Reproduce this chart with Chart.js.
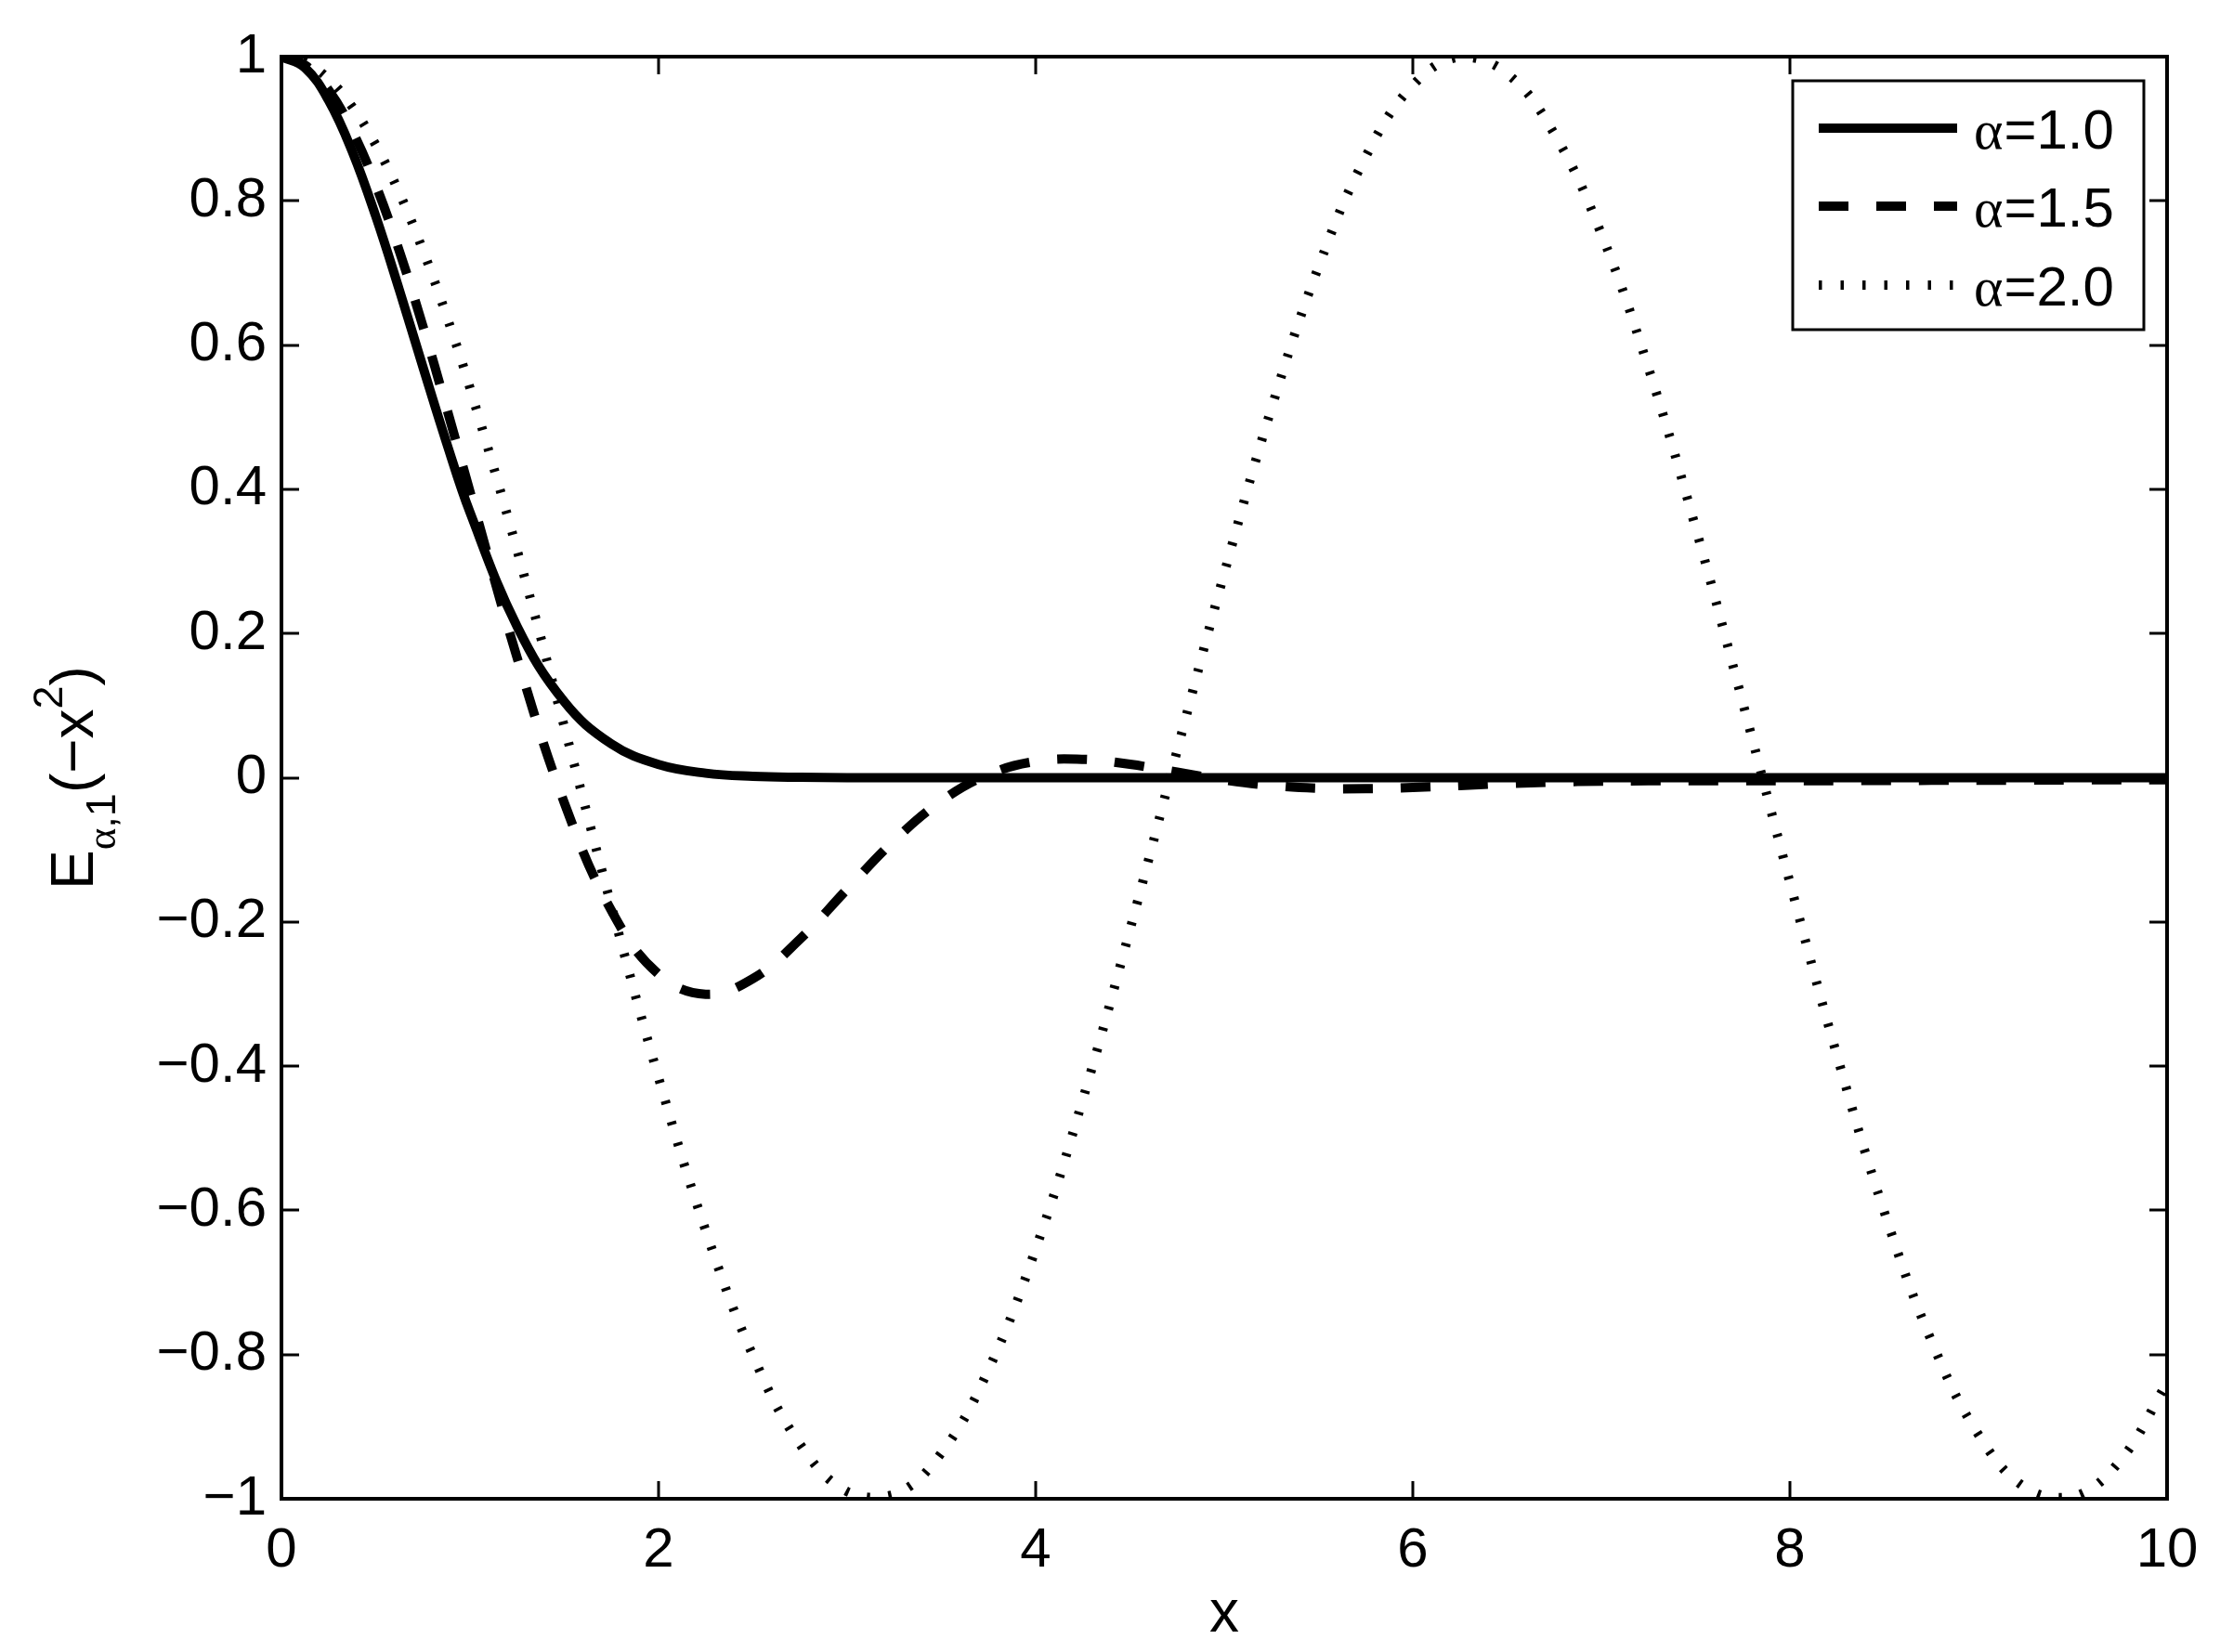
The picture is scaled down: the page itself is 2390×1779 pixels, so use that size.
<!DOCTYPE html>
<html>
<head>
<meta charset="utf-8">
<script src="https://cdn.jsdelivr.net/npm/chart.js@4.4.0/dist/chart.umd.min.js"></script>
<style>
  html, body { margin: 0; padding: 0; background: #fff; }
  canvas { display: block; }
</style>
</head>
<body>
<canvas id="chart" width="2390" height="1779"></canvas>
<script>
// E_{alpha,1}(-x^2) for three alphas (denser near x=0 where the curves bend)
const X = [0, 0.125, 0.25, 0.375, 0.5, 0.625, 0.75, 0.875, 1, 1.25, 1.5, 1.75, 2, 2.25, 2.5, 2.75, 3, 3.25, 3.5, 3.75, 4, 4.25, 4.5, 4.75,
  5, 5.25, 5.5, 5.75, 6, 6.25, 6.5, 6.75, 7, 7.25, 7.5, 7.75, 8, 8.25, 8.5, 8.75, 9, 9.25, 9.5, 9.75, 10];
const ALPHA_10 = [1, 0.9845, 0.9394, 0.8688, 0.7788, 0.6766, 0.5698, 0.465, 0.3679, 0.2096, 0.1054, 0.0468, 0.0183, 0.0063, 0.0019, 0.0005, 0.0001, 0, 0, 0, 0, 0, 0, 0,
  0, 0, 0, 0, 0, 0, 0, 0, 0, 0, 0, 0, 0, 0, 0, 0, 0, 0, 0, 0, 0];
const ALPHA_15 = [1, 0.9883, 0.9536, 0.8975, 0.8221, 0.7305, 0.6263, 0.5136, 0.3966, 0.1663, -0.0347, -0.1844, -0.2725, -0.3003, -0.2786, -0.2239, -0.1546, -0.087, -0.0322, 0.0045, 0.0227, 0.0255, 0.0186, 0.0077,
  -0.003, -0.0107, -0.0147, -0.0152, -0.0135, -0.0108, -0.0081, -0.006, -0.0048, -0.0042, -0.0041, -0.0042, -0.0043, -0.0041, -0.0039, -0.0037, -0.0035, -0.0033, -0.0031, -0.003, -0.0028];
const ALPHA_20 = [1, 0.9922, 0.9689, 0.9305, 0.8776, 0.811, 0.7317, 0.641, 0.5403, 0.3153, 0.0707, -0.1782, -0.4161, -0.6282, -0.8011, -0.9243, -0.99, -0.9941, -0.9365, -0.8206, -0.6536, -0.4461, -0.2108, 0.0376,
  0.2837, 0.5121, 0.7087, 0.8612, 0.9602, 0.9995, 0.9766, 0.893, 0.7539, 0.5679, 0.3466, 0.1038, -0.1455, -0.3857, -0.602, -0.7808, -0.9111, -0.9848, -0.9972, -0.9476, -0.8391];
const SERIES_LABELS = ["α=1.0", "α=1.5", "α=2.0"];
const X_TICKS = [0, 2, 4, 6, 8, 10];
const Y_TICKS = [-1, -0.8, -0.6, -0.4, -0.2, 0, 0.2, 0.4, 0.6, 0.8, 1];

const SANS = '"Liberation Sans", Arial, Helvetica, sans-serif';
const SERIF = '"Liberation Serif", "Times New Roman", serif';

const pts = ys => X.map((x, i) => ({ x, y: ys[i] }));

// frame, inward ticks, axis labels and the boxed legend
const decorations = {
    id: "decorations",
    afterDatasetsDraw(chart) {
        const { ctx, chartArea: a, scales } = chart;
        ctx.save();
        ctx.strokeStyle = "#000";
        ctx.setLineDash([]);
        ctx.lineCap = "butt";

        // ticks on all four sides, pointing in
        const TL = 19;
        ctx.lineWidth = 3;
        ctx.beginPath();
        X_TICKS.forEach(v => {
            const px = Math.round(scales.x.getPixelForValue(v));
            ctx.moveTo(px, a.bottom); ctx.lineTo(px, a.bottom - TL);
            ctx.moveTo(px, a.top); ctx.lineTo(px, a.top + TL);
        });
        Y_TICKS.forEach(v => {
            const py = Math.round(scales.y.getPixelForValue(v));
            ctx.moveTo(a.left, py); ctx.lineTo(a.left + TL, py);
            ctx.moveTo(a.right, py); ctx.lineTo(a.right - TL, py);
        });
        ctx.stroke();

        ctx.lineWidth = 4;
        ctx.strokeRect(a.left, a.top, a.right - a.left, a.bottom - a.top);

        // legend
        const bx = a.right - 25 - 378, by = a.top + 26, bw = 378, bh = 268;
        ctx.fillStyle = "#fff";
        ctx.fillRect(bx, by, bw, bh);
        ctx.lineWidth = 3;
        ctx.strokeRect(bx, by, bw, bh);
        const rows = [51, 135, 220];
        chart.data.datasets.forEach((ds, i) => {
            const ry = by + rows[i];
            ctx.save();
            ctx.lineWidth = ds.borderWidth;
            ctx.setLineDash(ds.borderDash || []);
            ctx.beginPath();
            ctx.moveTo(bx + 28, ry);
            ctx.lineTo(bx + 177, ry);
            ctx.stroke();
            ctx.restore();

            ctx.fillStyle = "#000";
            ctx.textBaseline = "alphabetic";
            ctx.textAlign = "left";
            let tx = bx + 195;
            ctx.font = `60px ${SERIF}`;
            ctx.fillText(ds.label[0], tx, ry + 22);
            tx += ctx.measureText(ds.label[0]).width + 1;
            ctx.font = `60px ${SANS}`;
            ctx.fillText(ds.label.slice(1), tx, ry + 22);
        });
        ctx.restore();
    },
    afterDraw(chart) {
        const { ctx, chartArea: a } = chart;
        ctx.save();
        ctx.fillStyle = "#000";
        ctx.textBaseline = "alphabetic";

        // x label
        ctx.font = `64px ${SANS}`;
        ctx.textAlign = "center";
        ctx.fillText("x", (a.left + a.right) / 2, 1757);

        // y label: E_{α,1}(−x^2), rotated
        const parts = [
            ["E", SANS, 64, 0],
            ["α", SERIF, 45, 24],
            [",", SANS, 45, 24],
            ["1", SANS, 45, 24],
            ["(\u2212x", SANS, 64, 0],
            ["2", SANS, 45, -33],
            [")", SANS, 64, 0]
        ];
        let total = 0;
        parts.forEach(p => { ctx.font = `${p[2]}px ${p[1]}`; total += ctx.measureText(p[0]).width; });
        ctx.translate(100, (a.top + a.bottom) / 2);
        ctx.rotate(-Math.PI / 2);
        ctx.textAlign = "left";
        let u = -total / 2;
        parts.forEach(p => {
            ctx.font = `${p[2]}px ${p[1]}`;
            ctx.fillText(p[0], u, p[3]);
            u += ctx.measureText(p[0]).width;
        });
        ctx.restore();
    }
};

const tickFont = { family: SANS, size: 60 };

new Chart(document.getElementById("chart"), {
    type: "line",
    data: {
        datasets: [
            { label: SERIES_LABELS[0], data: pts(ALPHA_10), borderColor: "#000", borderWidth: 10, order: 3 },
            { label: SERIES_LABELS[1], data: pts(ALPHA_15), borderColor: "#000", borderWidth: 10,
              borderDash: [32, 30], order: 2 },
            { label: SERIES_LABELS[2], data: pts(ALPHA_20), borderColor: "#000", borderWidth: 10,
              borderDash: [3.5, 20], order: 1 }
        ].map(d => Object.assign(d, { pointRadius: 0, fill: false, clip: 0, tension: 0.4,
                                      borderCapStyle: "butt", borderJoinStyle: "round" }))
    },
    options: {
        responsive: false,
        animation: false,
        devicePixelRatio: 1,
        layout: { padding: { top: 61, right: 57, left: 0, bottom: 0 } },
        plugins: { legend: { display: false }, tooltip: { enabled: false } },
        scales: {
            x: {
                type: "linear", min: 0, max: 10,
                afterBuildTicks: s => { s.ticks = X_TICKS.map(v => ({ value: v })); },
                afterFit: s => { s.height = 165; },
                grid: { display: false, drawTicks: false, tickLength: 0 },
                border: { display: false },
                ticks: { font: tickFont, color: "#000", padding: 20, maxRotation: 0, autoSkip: false,
                         callback: v => String(v) }
            },
            y: {
                type: "linear", min: -1, max: 1,
                afterBuildTicks: s => { s.ticks = Y_TICKS.map(v => ({ value: v })); },
                afterFit: s => { s.width = 303; },
                grid: { display: false, drawTicks: false, tickLength: 0 },
                border: { display: false },
                ticks: { font: tickFont, color: "#000", padding: 16, autoSkip: false,
                         callback: v => String(v).replace("-", "\u2212") }
            }
        }
    },
    plugins: [decorations]
});
</script>
</body>
</html>
